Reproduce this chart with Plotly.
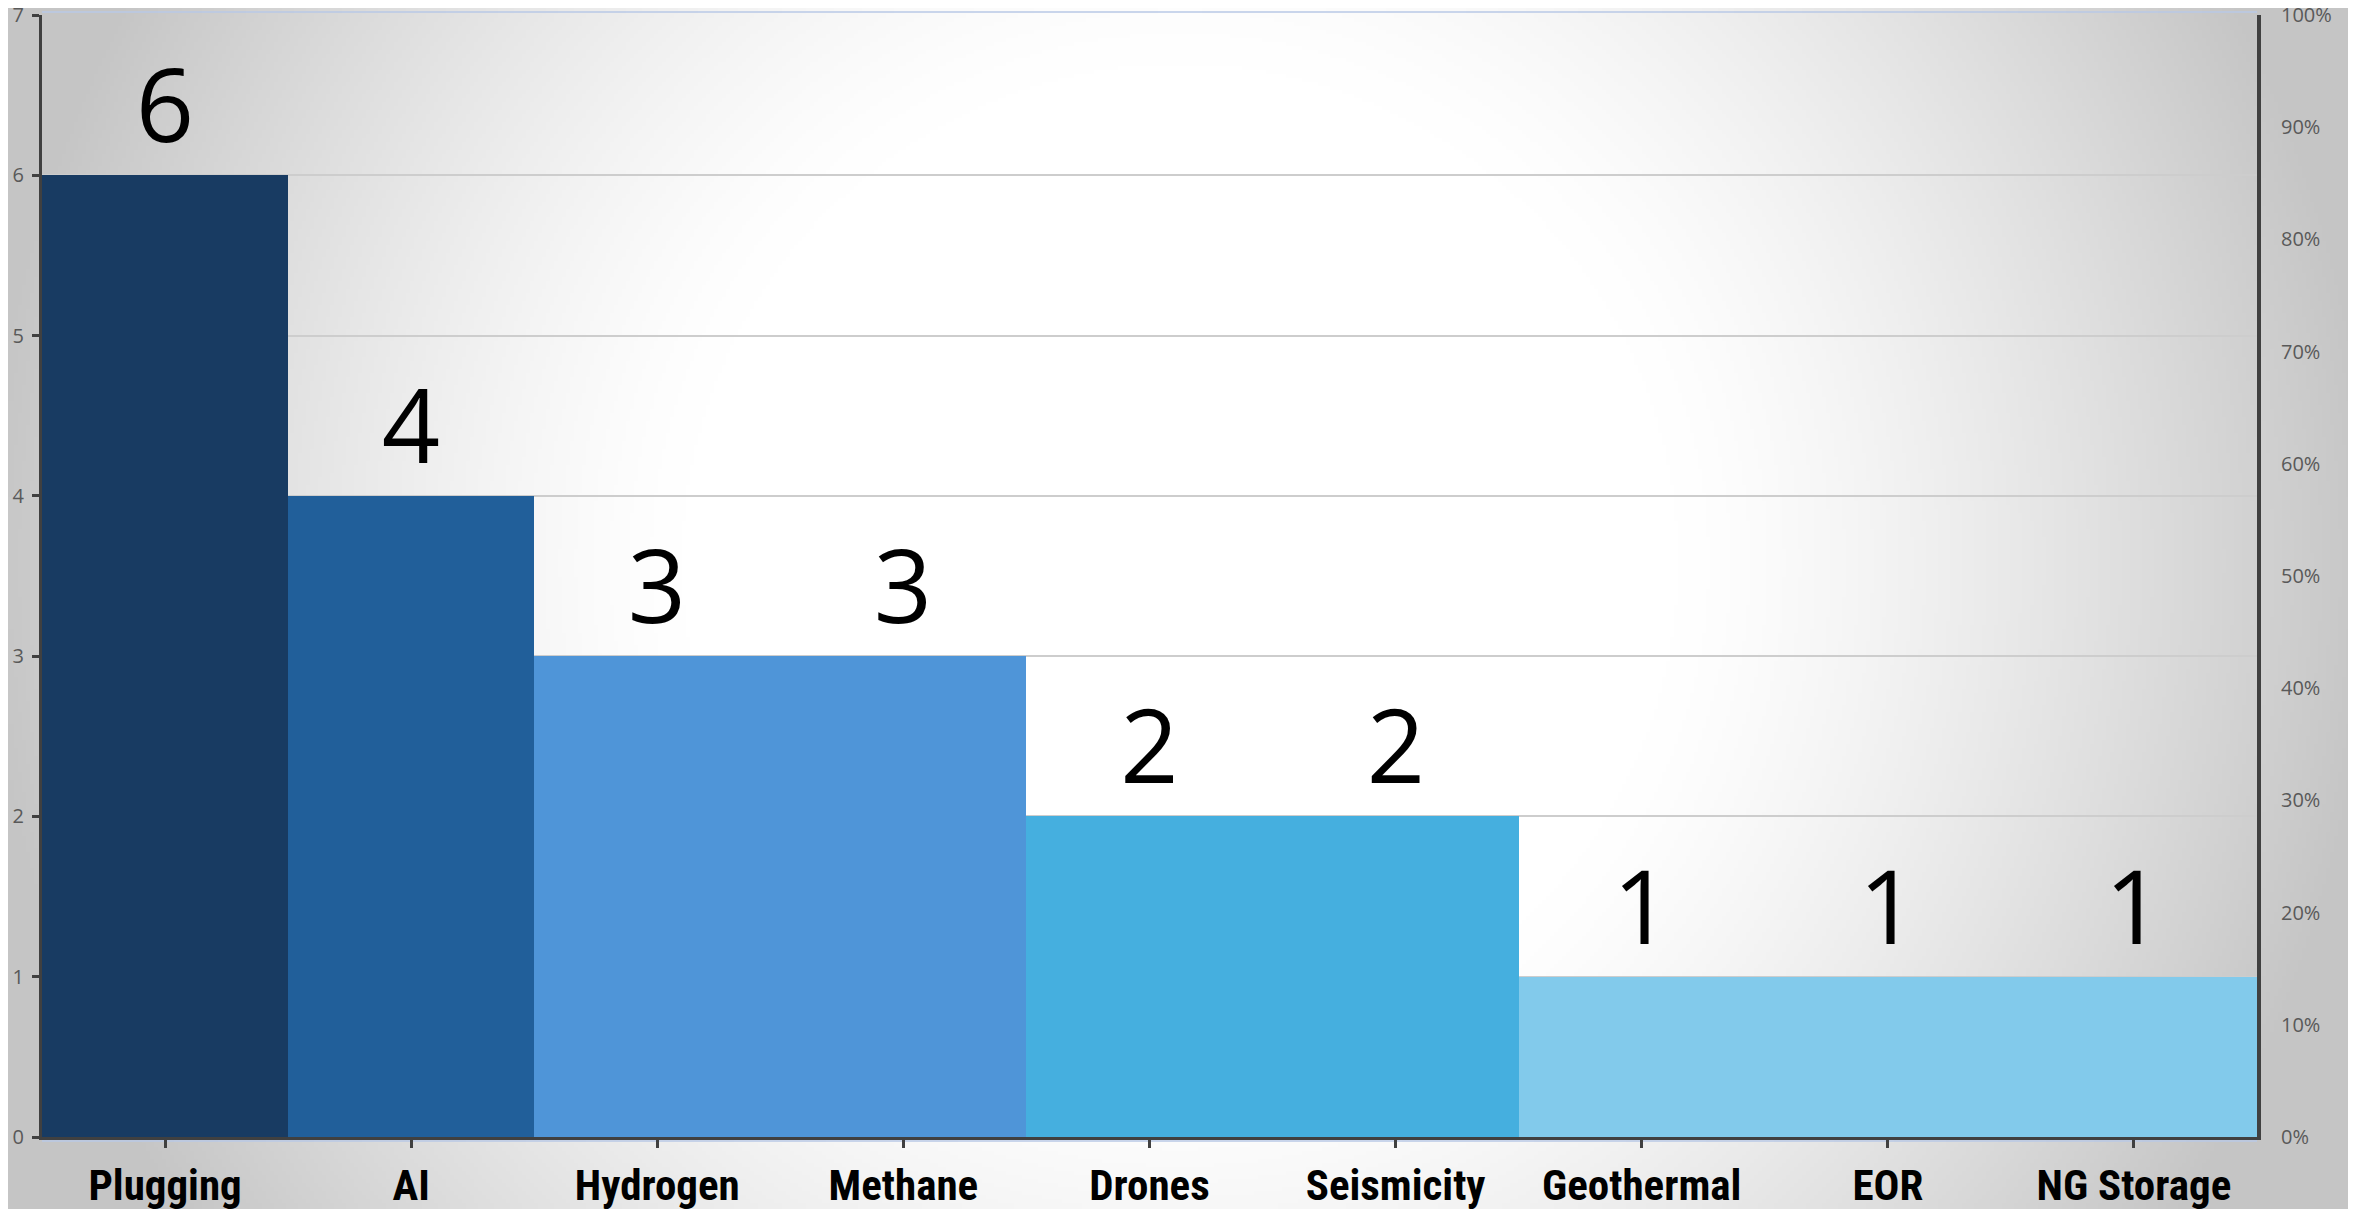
import base64, struct, zlib
import numpy as np
import plotly.graph_objects as go

categories = ["Plugging", "AI", "Hydrogen", "Methane", "Drones", "Seismicity", "Geothermal", "EOR", "NG Storage"]
counts = [6, 4, 3, 3, 2, 2, 1, 1, 1]
bar_colors = ["#183B62", "#215F9A", "#4F95D8", "#4F95D8", "#45AFDF", "#45AFDF", "#82CAEB", "#82CAEB", "#82CAEB"]
left_ticks = [0, 1, 2, 3, 4, 5, 6, 7]
right_ticks = [i / 10 for i in range(11)]

# page body adds an 8px offset; the figure is sized so it ends at the window edge
OFF = 8
W, H = 2356 - OFF, 1209 - OFF
ML, MR, MT, MB = 42 - OFF, 99, 15 - OFF, 72
PW, PH = W - ML - MR, H - MT - MB


def gradient_png():
    w, h = 587, 301
    ys, xs = np.mgrid[0:h, 0:w]
    xs = xs * (W / w) + OFF
    ys = ys * (H / h) + OFF
    d = np.sqrt((xs - 1178) ** 2 + (ys - 560) ** 2)
    t = np.clip((d - 500) / 700, 0, 1)
    v = 255 - 58 * t ** 1.3
    arr = np.repeat(v[:, :, None], 3, axis=2).astype(np.uint8)
    raw = b"".join(b"\x00" + arr[r].tobytes() for r in range(h))

    def chunk(tag, data):
        c = struct.pack(">I", len(data)) + tag + data
        return c + struct.pack(">I", zlib.crc32(tag + data) & 0xFFFFFFFF)

    png = b"\x89PNG\r\n\x1a\n"
    png += chunk(b"IHDR", struct.pack(">IIBBBBB", w, h, 8, 2, 0, 0, 0))
    png += chunk(b"IDAT", zlib.compress(raw, 9))
    png += chunk(b"IEND", b"")
    return "data:image/png;base64," + base64.b64encode(png).decode()


fig = go.Figure()
fig.add_trace(go.Bar(
    x=categories, y=counts,
    marker=dict(color=bar_colors, line=dict(width=0)),
    text=counts, textposition="outside",
    textfont=dict(family="Open Sans, Noto Sans, sans-serif", size=102, color="#000000"),
    cliponaxis=False, showlegend=False, hoverinfo="x+y",
))
fig.add_trace(go.Scatter(
    x=[categories[0]], y=[0], yaxis="y2", mode="markers",
    marker=dict(opacity=0), showlegend=False, hoverinfo="skip",
))

fig.update_layout(
    width=W, height=H, autosize=False,
    margin=dict(l=ML, r=MR, t=MT, b=MB, pad=0, autoexpand=False),
    paper_bgcolor="rgba(0,0,0,0)", plot_bgcolor="rgba(0,0,0,0)",
    bargap=0,
    images=[dict(
        source=gradient_png(), xref="paper", yref="paper",
        x=-ML / PW, y=1 + MT / PH, sizex=W / PW, sizey=H / PH,
        xanchor="left", yanchor="top", sizing="stretch", layer="below",
    )],
    shapes=[
        dict(type="line", xref="paper", yref="paper", x0=0, x1=1,
             y0=1 + 3 / PH, y1=1 + 3 / PH, line=dict(color="#b8c9e6", width=1.5), layer="below"),
        dict(type="line", xref="paper", yref="paper", x0=0, x1=1,
             y0=-4 / PH, y1=-4 / PH, line=dict(color="#b8c9e6", width=1.5), layer="below"),
    ],
    xaxis=dict(
        automargin=False, ticklabeloverflow="allow",
        showline=True, linecolor="#404040", linewidth=3,
        ticks="outside", ticklen=8, tickwidth=3, tickcolor="#404040",
        tickfont=dict(family="Liberation Sans Narrow, Arial Narrow, Roboto Condensed, sans-serif",
                      size=43, color="#000000", weight=700),
        showgrid=False, fixedrange=True,
    ),
    yaxis=dict(
        automargin=False,
        range=[0, 7], tickvals=left_ticks, showline=True, linecolor="#404040", linewidth=3,
        ticks="outside", ticklen=7, tickwidth=3, tickcolor="#404040",
        tickfont=dict(family="Open Sans, Noto Sans, sans-serif", size=20, color="#595959"),
        showgrid=True, gridcolor="#cdcdcd", gridwidth=2, zeroline=False,
        ticklabelstandoff=4, ticklabeloverflow="allow",
    ),
    yaxis2=dict(
        automargin=False,
        overlaying="y", side="right", range=[0, 1], tickvals=right_ticks, tickformat=".0%",
        showline=True, linecolor="#404040", linewidth=4, ticks="",
        tickfont=dict(family="Open Sans, Noto Sans, sans-serif", size=20, color="#595959"),
        showgrid=False, zeroline=False, ticklabelstandoff=16, ticklabeloverflow="allow",
    ),
)

fig.write_html("out.html")
